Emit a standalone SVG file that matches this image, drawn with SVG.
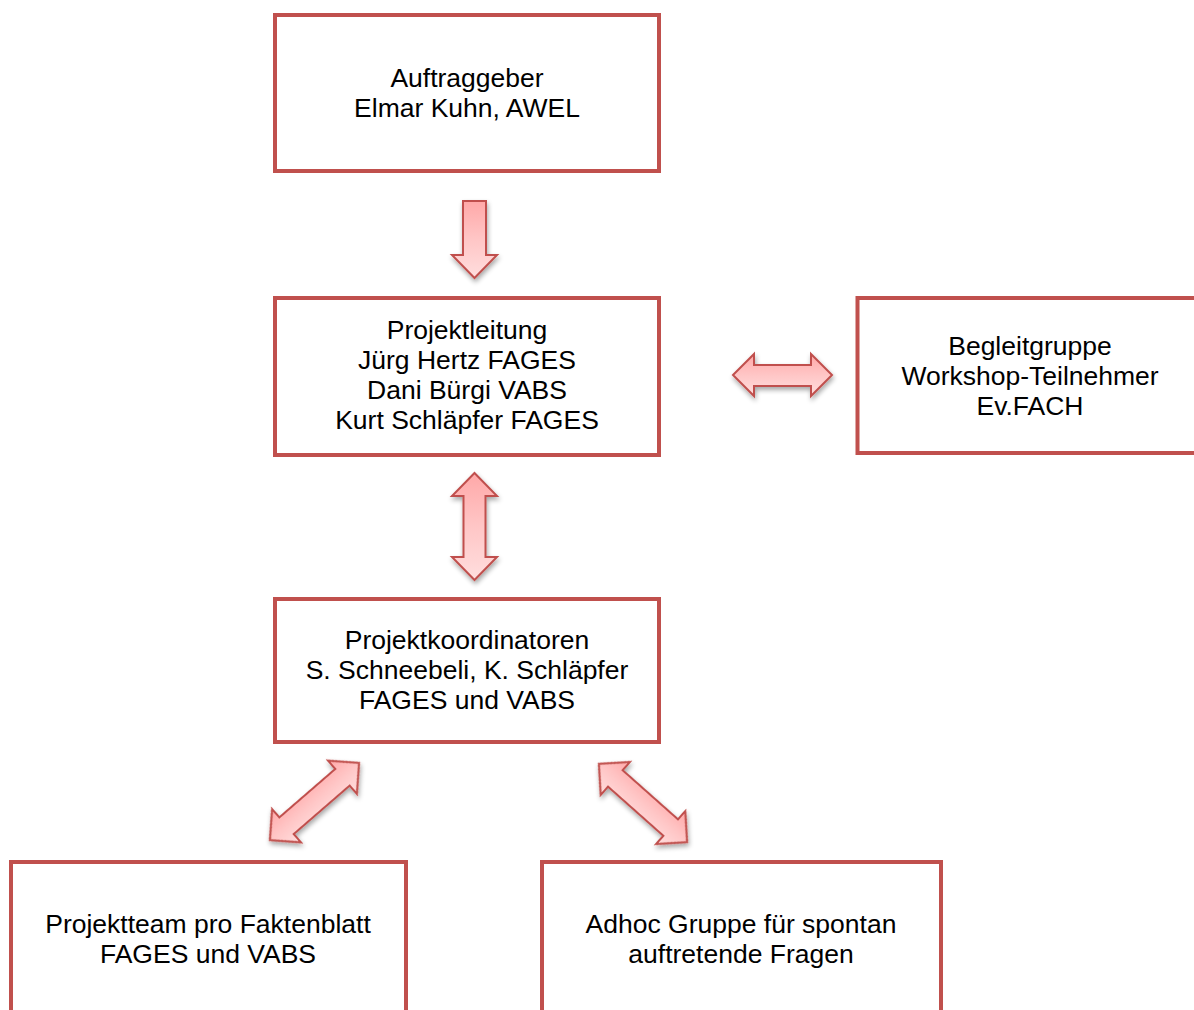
<svg xmlns="http://www.w3.org/2000/svg" width="1194" height="1010" viewBox="0 0 1194 1010">
<style>
.box{fill:#ffffff;stroke:#c0504d;stroke-width:4}
.t{font-family:"Liberation Sans",Arial,sans-serif;font-size:26.5px;fill:#000;text-anchor:middle}
.arr{fill:url(#g);stroke:#c0504d;stroke-width:2;stroke-linejoin:miter}
</style>
<defs>
<linearGradient id="g" x1="0" y1="0" x2="0" y2="1">
<stop offset="0" stop-color="#ffa8a8"/>
<stop offset="0.5" stop-color="#ffc6c6"/>
<stop offset="1" stop-color="#ffdede"/>
</linearGradient>
<filter id="sh" x="-30%" y="-30%" width="160%" height="160%">
<feGaussianBlur in="SourceAlpha" stdDeviation="2.5"/>
<feOffset dx="1" dy="3" result="b"/>
<feComponentTransfer><feFuncA type="linear" slope="0.35"/></feComponentTransfer>
<feMerge><feMergeNode/><feMergeNode in="SourceGraphic"/></feMerge>
</filter>
<path id="dbl" d="M-59,0 L-37,-22 L-37,-11 L37,-11 L37,-22 L59,0 L37,22 L37,11 L-37,11 L-37,22 Z"/>
</defs>
<g id="node-auftraggeber">
<rect class="box" x="275" y="15" width="384" height="156"/>
<text class="t" x="467" y="86.5">Auftraggeber</text>
<text class="t" x="467" y="116.5">Elmar Kuhn, AWEL</text>
</g>
<g id="node-projektleitung">
<rect class="box" x="275" y="298" width="384" height="157"/>
<text class="t" x="467" y="338.5">Projektleitung</text>
<text class="t" x="467" y="368.5">Jürg Hertz FAGES</text>
<text class="t" x="467" y="398.5">Dani Bürgi VABS</text>
<text class="t" x="467" y="428.5">Kurt Schläpfer FAGES</text>
</g>
<g id="node-begleitgruppe">
<rect class="box" x="857.5" y="298" width="345" height="155"/>
<text class="t" x="1030" y="354.5">Begleitgruppe</text>
<text class="t" x="1030" y="384.5">Workshop-Teilnehmer</text>
<text class="t" x="1030" y="414.5">Ev.FACH</text>
</g>
<g id="node-koordinatoren">
<rect class="box" x="275" y="599" width="384" height="143"/>
<text class="t" x="467" y="648.5">Projektkoordinatoren</text>
<text class="t" x="467" y="678.5">S. Schneebeli, K. Schläpfer</text>
<text class="t" x="467" y="708.5">FAGES und VABS</text>
</g>
<g id="node-projektteam">
<rect class="box" x="11" y="862" width="395" height="160"/>
<text class="t" x="208" y="932.5">Projektteam pro Faktenblatt</text>
<text class="t" x="208" y="962.5">FAGES und VABS</text>
</g>
<g id="node-adhoc">
<rect class="box" x="542" y="862" width="399" height="160"/>
<text class="t" x="741" y="932.5">Adhoc Gruppe für spontan</text>
<text class="t" x="741" y="962.5">auftretende Fragen</text>
</g>
<g id="connectors" filter="url(#sh)">
<path class="arr" d="M463,201 L486,201 L486,255 L497,255 L474.5,278 L452,255 L463,255 Z"/>
<path class="arr" d="M733,375 L754,354 L754,365 L811,365 L811,354 L832,375 L811,396 L811,386 L754,386 L754,396 Z"/>
<path class="arr" d="M474.5,473 L497,496 L485.5,496 L485.5,557 L497,557 L474.5,580 L452,557 L463.5,557 L463.5,496 L452,496 Z"/>
<use class="arr" href="#dbl" transform="translate(314.5,801.5) rotate(-40.9)"/>
<use class="arr" href="#dbl" transform="translate(643,803) rotate(41.6)"/>
</g>
</svg>
